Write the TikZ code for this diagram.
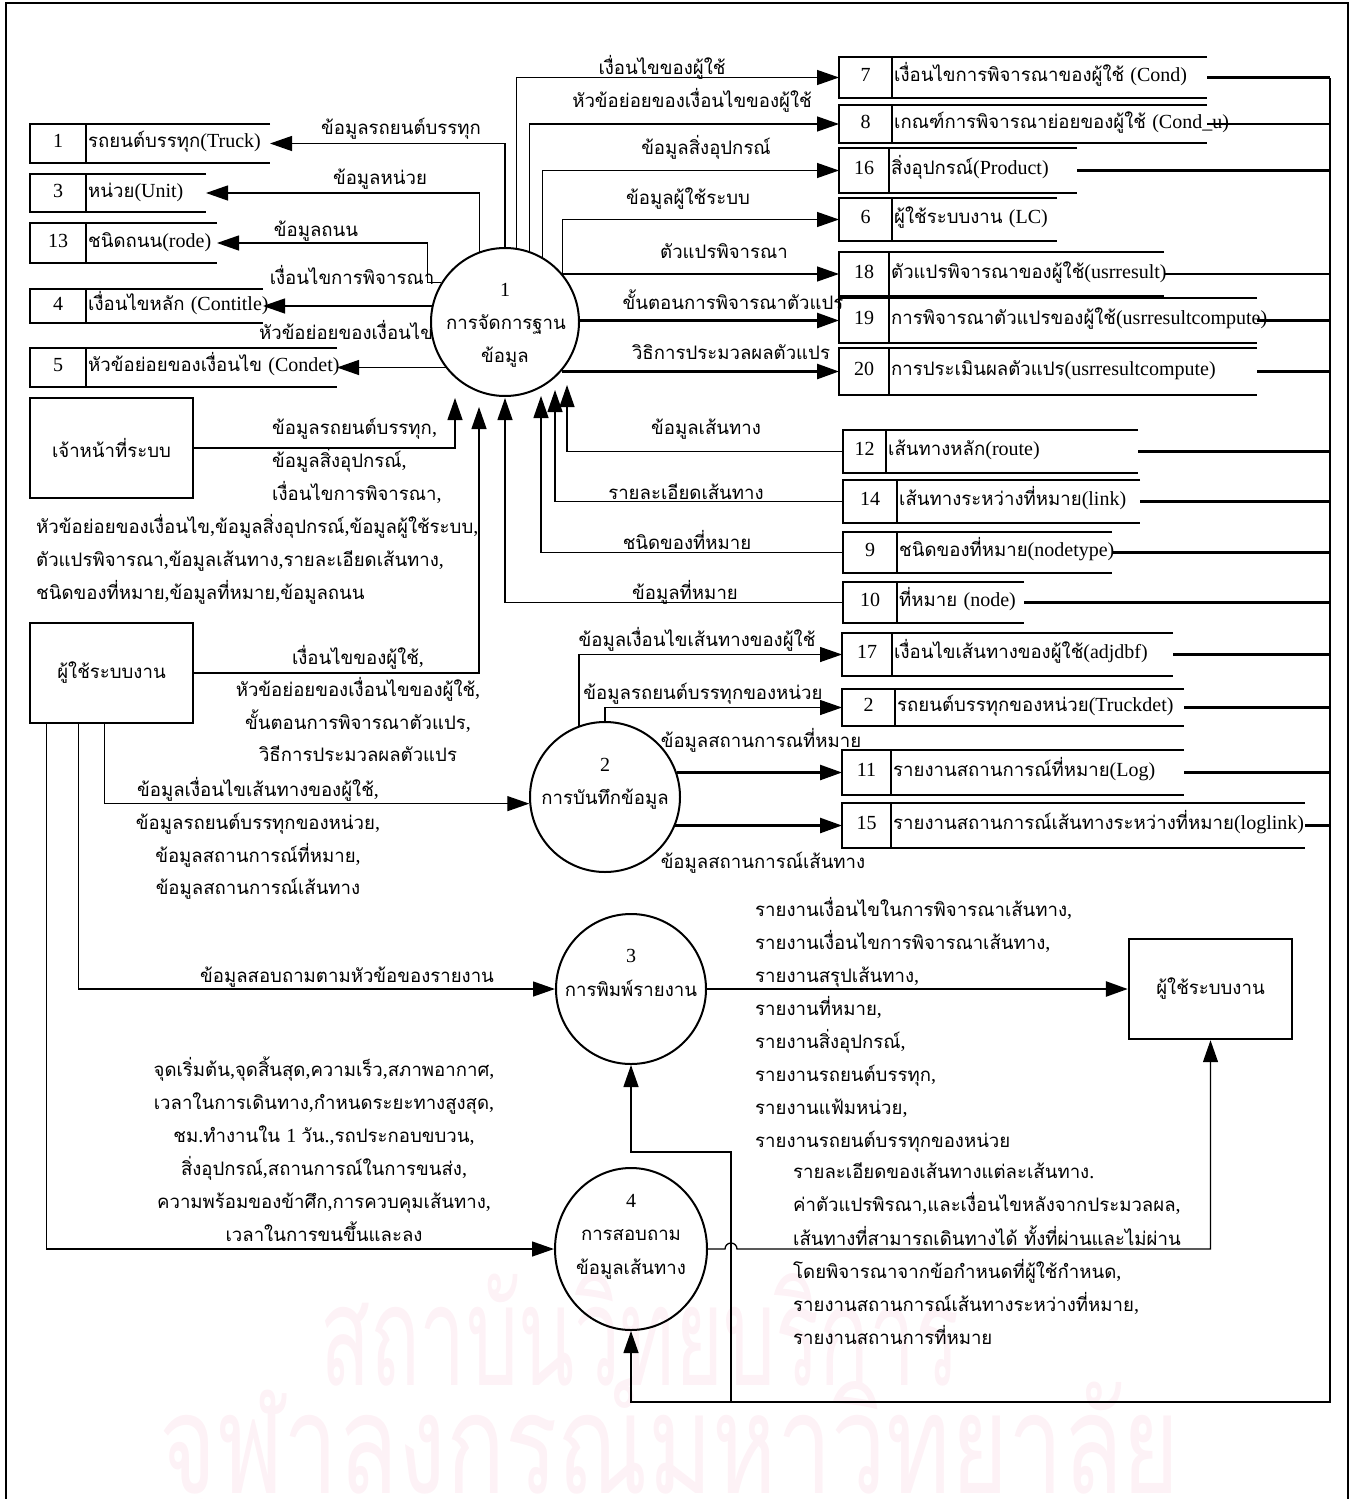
\documentclass[tikz,border=0pt]{standalone}
\usepackage{fontspec}
\setmainfont{Liberation Serif}
\newfontfamily\thaifont[Script=Thai,Scale=0.93]{Loma}
\usetikzlibrary{arrows.meta,calc,shapes.geometric}

% Thai characters switch to the Thai family automatically, everything else stays in the Latin serif
\makeatletter
\XeTeXinterchartokenstate=1
\newXeTeXintercharclass\thaiclass
\@tempcnta="0E00
\loop
  \XeTeXcharclass\@tempcnta=\thaiclass
  \ifnum\@tempcnta<"0E7F \advance\@tempcnta by 1 \repeat
\XeTeXinterchartoks 0 \thaiclass = {\thaifont}
\XeTeXinterchartoks 4095 \thaiclass = {\thaifont}
\XeTeXinterchartoks \thaiclass 0 = {\rmfamily}
\XeTeXinterchartoks 4095 0 = {\rmfamily}
\makeatother

\newcommand\lblsize{\fontsize{20}{33}\selectfont}
\definecolor{wmark}{RGB}{253,242,246}

% open-ended data store: name, number, title, left x, divider x, right end x, top y, bottom y
\newcommand\datastore[8]{%
  \draw[storeline] (#6,#7) -- (#4,#7) -- (#4,#8) -- (#6,#8);
  \draw[storeline] (#5,#7) -- (#5,#8);
  \node[lbl] (#1-num) at ({(#4+#5)/2},{(#7+#8)/2}) {#2};
  \node[lbl,anchor=west] (#1) at ({#5+2},{(#7+#8)/2}) {#3};
  \coordinate (#1-w) at (#4,{(#7+#8)/2});
  \coordinate (#1-e) at (#6,{(#7+#8)/2});
}

\begin{document}
\begin{tikzpicture}[x=1pt,y=-1pt,
  lbl/.style={inner sep=0pt,font=\lblsize,text height=13pt,text depth=5pt},
  storeline/.style={line width=1.3pt},
  frame/.style={line width=2.4pt},
  entity/.style={draw,line width=2.4pt,minimum width=163pt,minimum height=100pt,inner sep=0pt,font=\lblsize},
  proc/.style={draw,circle,line width=2pt,inner sep=0pt},
  flow/.style={line width=1.3pt,-{Triangle[length=22pt,width=15pt]}},
  flowthick/.style={line width=2.6pt,-{Triangle[length=22pt,width=15pt]}},
  busline/.style={line width=2.6pt},
  plain/.style={line width=1.3pt}]
\useasboundingbox (0,0) rectangle (1358,1499);

% watermark
\node[inner sep=0pt,text=wmark,font=\fontsize{150}{150}\selectfont] (wm1) at (640,1330) {\resizebox{640pt}{\height}{สถาบันวิทยบริการ}};
\node[inner sep=0pt,text=wmark,font=\fontsize{150}{150}\selectfont] (wm2) at (670,1450) {\resizebox{1020pt}{\height}{จุฬาลงกรณ์มหาวิทยาลัย}};

% page frame
\draw[frame] (6,1520) -- (6,3) -- (1348,3) -- (1348,1520);

% processes
\node[proc,minimum size=148pt] (p1) at (505,322) {};
\node[proc,minimum size=150pt] (p2) at (605,797) {};
\node[proc,minimum size=150pt] (p3) at (631,989) {};
\node[draw,ellipse,line width=2pt,inner sep=0pt,minimum width=152pt,minimum height=162pt] (p4) at (631,1249) {};
\node[lbl] (p1-a) at (505,292) {1};
\node[lbl] (p1-b) at (506,325) {การจัดการฐาน};
\node[lbl] (p1-c) at (505,358) {ข้อมูล};
\node[lbl] (p2-a) at (605,767) {2};
\node[lbl] (p2-b) at (605,800) {การบันทึกข้อมูล};
\node[lbl] (p3-a) at (631,958) {3};
\node[lbl] (p3-b) at (631,992) {การพิมพ์รายงาน};
\node[lbl] (p4-a) at (631,1203) {4};
\node[lbl] (p4-b) at (631,1236) {การสอบถาม};
\node[lbl] (p4-c) at (631,1270) {ข้อมูลเส้นทาง};

% external entities
\node[entity] (e1) at (111.5,448) {เจ้าหน้าที่ระบบ};
\node[entity] (e2) at (111.5,673) {ผู้ใช้ระบบงาน};
\node[entity] (e3) at (1210.5,989) {ผู้ใช้ระบบงาน};

% data stores, left column
\datastore{s1}{1}{รถยนต์บรรทุก(Truck)}{30}{86}{270}{124}{163}
\datastore{s3}{3}{หน่วย(Unit)}{30}{86}{206}{174}{212}
\datastore{s13}{13}{ชนิดถนน(rode)}{30}{86}{217}{223}{263}
\datastore{s4}{4}{เงื่อนไขหลัก (Contitle)}{30}{86}{263}{289}{323}
\datastore{s5}{5}{หัวข้อย่อยของเงื่อนไข (Condet)}{30}{86}{337}{348}{387}

% data stores, right column
\datastore{s7}{7}{เงื่อนไขการพิจารณาของผู้ใช้ (Cond)}{839}{892}{1207}{57}{98}
\datastore{s8}{8}{เกณฑ์การพิจารณาย่อยของผู้ใช้ (Cond\_u)}{839}{892}{1207}{105}{143}
\datastore{s16}{16}{สิ่งอุปกรณ์(Product)}{839}{889}{1077}{148}{193}
\datastore{s6}{6}{ผู้ใช้ระบบงาน (LC)}{839}{892}{1057}{198}{241}
\datastore{s18}{18}{ตัวแปรพิจารณาของผู้ใช้(usrresult)}{839}{889}{1164}{252}{296}
\datastore{s19}{19}{การพิจารณาตัวแปรของผู้ใช้(usrresultcompute)}{839}{889}{1257}{298}{343}
\datastore{s20}{20}{การประเมินผลตัวแปร(usrresultcompute)}{839}{889}{1257}{348}{395}
\datastore{s12}{12}{เส้นทางหลัก(route)}{843}{886}{1138}{430}{473}
\datastore{s14}{14}{เส้นทางระหว่างที่หมาย(link)}{843}{897}{1140}{480}{523}
\datastore{s9}{9}{ชนิดของที่หมาย(nodetype)}{843}{897}{1112}{532}{573}
\datastore{s10}{10}{ที่หมาย (node)}{843}{897}{1024}{582}{623}
\datastore{s17}{17}{เงื่อนไขเส้นทางของผู้ใช้(adjdbf)}{842}{892}{1173}{633}{676}
\datastore{s2}{2}{รถยนต์บรรทุกของหน่วย(Truckdet)}{842}{895}{1184}{689}{726}
\datastore{s11}{11}{รายงานสถานการณ์ที่หมาย(Log)}{842}{891}{1184}{750}{795}
\datastore{s15}{15}{รายงานสถานการณ์เส้นทางระหว่างที่หมาย(loglink)}{842}{891}{1305}{803}{848}

% collecting line on the right
\coordinate (bustop) at (1330,78);
\coordinate (busmid) at (1330,905);
\coordinate (busbot) at (1330,1402);
\coordinate (tap) at (731,1402);
\coordinate (bend) at (731,1152);
\draw[busline] (bustop) -- (busmid);
\foreach \s in {s7,s8,s16,s18,s19,s20,s12,s14,s9,s10,s17,s2,s11,s15}
  \draw[busline] (\s-e) -- (\s-e -| bustop);
\draw[flow] (busmid) -- (busbot) -| (p4.south);
\draw[flow] (tap) -- (bend) -| (p3.south);

% process 1 to the left stores
\draw[flow] (p1.north) |- (s1-e);
\draw[flow] (p1.110) |- (s3-e);
\draw[flow] (p1.148) -- ++(-14,0) |- (s13-e);
\draw[flow] (s4-e -| p1.168) -- (s4-e);
\draw[flow] (s5-e -| p1.218) -- (s5-e);
\node[lbl] (l1) at (401,130) {ข้อมูลรถยนต์บรรทุก};
\node[lbl] (l3) at (380,180) {ข้อมูลหน่วย};
\node[lbl] (l13) at (316,232) {ข้อมูลถนน};
\node[lbl] (l4) at (352,280) {เงื่อนไขการพิจารณา};
\node[lbl] (l5) at (346,335) {หัวข้อย่อยของเงื่อนไข};

% process 1 to the right stores
\draw[flow] (p1.81) |- (s7-w);
\draw[flow] (p1.71) |- (s8-w);
\draw[flow] (p1.60) |- (s16-w);
\draw[flow] (p1.40) |- (s6-w);
\draw[flow] (s18-w -| p1.42) -- (s18-w);
\draw[flowthick] (s19-w -| p1.east) -- (s19-w);
\draw[flowthick] (s20-w -| p1.320) -- (s20-w);
\node[lbl] (l7) at (662,70) {เงื่อนไขของผู้ใช้};
\node[lbl] (l8) at (692,103) {หัวข้อย่อยของเงื่อนไขของผู้ใช้};
\node[lbl] (l16) at (706,150) {ข้อมูลสิ่งอุปกรณ์};
\node[lbl] (l6) at (688,200) {ข้อมูลผู้ใช้ระบบ};
\node[lbl] (l18) at (724,254) {ตัวแปรพิจารณา};
\node[lbl] (l19) at (733,305) {ขั้นตอนการพิจารณาตัวแปร};
\node[lbl] (l20) at (731,355) {วิธิการประมวลผลตัวแปร};

% flows back into process 1
\coordinate (in1a) at (455,398);
\coordinate (in1b) at (479,407);
\coordinate (in1c) at (505,398);
\coordinate (in1d) at (541,396);
\coordinate (in1e) at (555,390);
\coordinate (in1f) at (567,385);
\draw[flow] (e1.east) -| (in1a);
\draw[flow] (e2.east) -| (in1b);
\draw[flow] (s10-w) -| (in1c);
\draw[flow] (s9-w) -| (in1d);
\draw[flow] (s14-w) -| (in1e);
\draw[flow] (s12-w) -| (in1f);
\node[lbl] (l12) at (706,430) {ข้อมูลเส้นทาง};
\node[lbl] (l14) at (686,495) {รายละเอียดเส้นทาง};
\node[lbl] (l9) at (687,545) {ชนิดของที่หมาย};
\node[lbl] (l10) at (685,595) {ข้อมูลที่หมาย};

\node[lbl,anchor=west] (a1) at (272,430) {ข้อมูลรถยนต์บรรทุก,};
\node[lbl,anchor=west] (a2) at (272,463) {ข้อมูลสิ่งอุปกรณ์,};
\node[lbl,anchor=west] (a3) at (272,496) {เงื่อนไขการพิจารณา,};
\node[lbl,anchor=west] (a4) at (36,529) {หัวข้อย่อยของเงื่อนไข,ข้อมูลสิ่งอุปกรณ์,ข้อมูลผู้ใช้ระบบ,};
\node[lbl,anchor=west] (a5) at (36,562) {ตัวแปรพิจารณา,ข้อมูลเส้นทาง,รายละเอียดเส้นทาง,};
\node[lbl,anchor=west] (a6) at (36,595) {ชนิดของที่หมาย,ข้อมูลที่หมาย,ข้อมูลถนน};

\node[lbl] (b1) at (358,660) {เงื่อนไขของผู้ใช้,};
\node[lbl] (b2) at (358,692) {หัวข้อย่อยของเงื่อนไขของผู้ใช้,};
\node[lbl] (b3) at (358,725) {ขั้นตอนการพิจารณาตัวแปร,};
\node[lbl] (b4) at (358,757) {วิธีการประมวลผลตัวแปร};

% process 2
\draw[flow] ($(e2.south west)+(76,0)$) |- (p2.185);
\draw[flow] (p2.110) |- (s17-w);
\draw[flow] (p2.north) |- (s2-w);
\draw[flowthick] (s11-w -| p2.19) -- (s11-w);
\draw[flowthick] (s15-w -| p2.338) -- (s15-w);
\node[lbl] (c1) at (258,792) {ข้อมูลเงื่อนไขเส้นทางของผู้ใช้,};
\node[lbl] (c2) at (258,825) {ข้อมูลรถยนต์บรรทุกของหน่วย,};
\node[lbl] (c3) at (258,858) {ข้อมูลสถานการณ์ที่หมาย,};
\node[lbl] (c4) at (258,890) {ข้อมูลสถานการณ์เส้นทาง};
\node[lbl] (l17) at (697,642) {ข้อมูลเงื่อนไขเส้นทางของผู้ใช้};
\node[lbl] (l2) at (703,695) {ข้อมูลรถยนต์บรรทุกของหน่วย};
\node[lbl] (l11) at (761,743) {ข้อมูลสถานการณที่หมาย};
\node[lbl] (l15) at (763,864) {ข้อมูลสถานการณ์เส้นทาง};

% process 3
\draw[flow] ($(e2.south west)+(50,0)$) |- (p3.west);
\draw[flowthick] (p3.east) -- (e3.west);
\node[lbl] (d1) at (347,978) {ข้อมูลสอบถามตามหัวข้อของรายงาน};
\node[lbl,anchor=west] (f1) at (755,912) {รายงานเงื่อนไขในการพิจารณาเส้นทาง,};
\node[lbl,anchor=west] (f2) at (755,945) {รายงานเงื่อนไขการพิจารณาเส้นทาง,};
\node[lbl,anchor=west] (f3) at (755,978) {รายงานสรุปเส้นทาง,};
\node[lbl,anchor=west] (f4) at (755,1011) {รายงานที่หมาย,};
\node[lbl,anchor=west] (f5) at (755,1044) {รายงานสิ่งอุปกรณ์,};
\node[lbl,anchor=west] (f6) at (755,1077) {รายงานรถยนต์บรรทุก,};
\node[lbl,anchor=west] (f7) at (755,1110) {รายงานแฟ้มหน่วย,};
\node[lbl,anchor=west] (f8) at (755,1143) {รายงานรถยนต์บรรทุกของหน่วย};

% process 4
\draw[flow] ($(e2.south west)+(18,0)$) |- (p4.west);
\draw[flow] (p4.east) -- ($(p4.east -| tap)+(-6,0)$)
  arc[start angle=180,end angle=360,radius=6] -- (p4.east -| e3.south) -- (e3.south);
\node[lbl] (g1) at (324,1072) {จุดเริ่มต้น,จุดสิ้นสุด,ความเร็ว,สภาพอากาศ,};
\node[lbl] (g2) at (324,1105) {เวลาในการเดินทาง,กำหนดระยะทางสูงสุด,};
\node[lbl] (g3) at (324,1138) {ชม.ทำงานใน 1 วัน.,รถประกอบขบวน,};
\node[lbl] (g4) at (324,1171) {สิ่งอุปกรณ์,สถานการณ์ในการขนส่ง,};
\node[lbl] (g5) at (324,1204) {ความพร้อมของข้าศึก,การควบคุมเส้นทาง,};
\node[lbl] (g6) at (324,1237) {เวลาในการขนขึ้นและลง};
\node[lbl,anchor=west] (h1) at (793,1174) {รายละเอียดของเส้นทางแต่ละเส้นทาง.};
\node[lbl,anchor=west] (h2) at (793,1207) {ค่าตัวแปรพิรณา,และเงื่อนไขหลังจากประมวลผล,};
\node[lbl,anchor=west] (h3) at (793,1241) {เส้นทางที่สามารถเดินทางได้ ทั้งที่ผ่านและไม่ผ่าน};
\node[lbl,anchor=west] (h4) at (793,1274) {โดยพิจารณาจากข้อกำหนดที่ผู้ใช้กำหนด,};
\node[lbl,anchor=west] (h5) at (793,1307) {รายงานสถานการณ์เส้นทางระหว่างที่หมาย,};
\node[lbl,anchor=west] (h6) at (793,1340) {รายงานสถานการที่หมาย};
\end{tikzpicture}
\end{document}
